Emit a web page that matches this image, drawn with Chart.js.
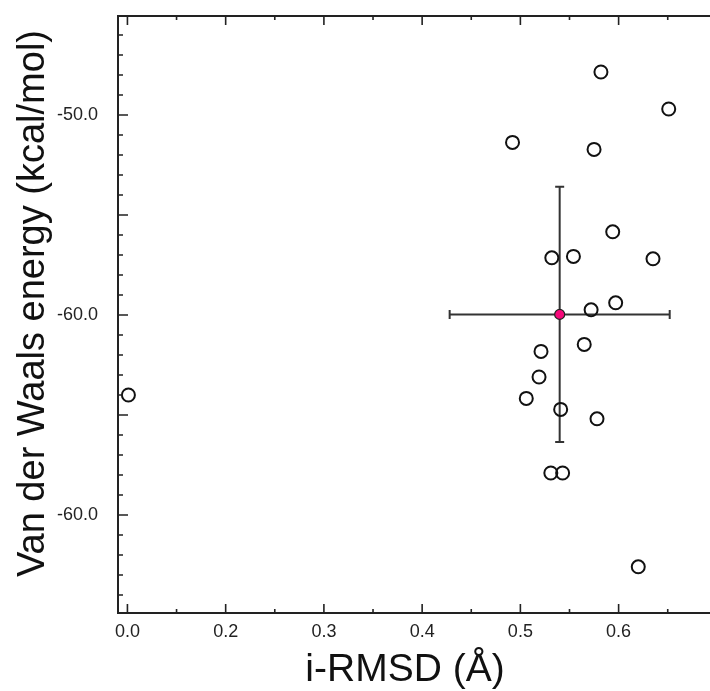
<!DOCTYPE html>
<html>
<head>
<meta charset="utf-8">
<script src="https://cdn.jsdelivr.net/npm/chart.js@4.4.1/dist/chart.umd.min.js"></script>
<style>
  html, body { margin: 0; padding: 0; background: #fff; overflow: hidden; }
  #wrap { width: 710px; height: 691px; }
</style>
</head>
<body>
<div id="wrap"><canvas id="chart" width="710" height="691"></canvas></div>
<script>
// docked models: interface RMSD vs van der Waals energy
const rmsd = [0.101, 0.492, 0.582, 0.651, 0.575, 0.594, 0.532, 0.554, 0.635, 0.597,
              0.572, 0.565, 0.521, 0.519, 0.506, 0.541, 0.578, 0.531, 0.543, 0.620];
const vdw = [-64.0, -51.37, -47.85, -49.7, -51.72, -55.84, -57.14, -57.07, -57.19, -59.39,
             -59.74, -61.47, -61.82, -63.1, -64.17, -64.72, -65.19, -67.9, -67.9, -72.59];

// mean and standard deviation
const meanRmsd = [0.540];
const meanVdw = [-59.97];
const sdRmsd = [0.112];
const sdVdw = [6.38];

const xTickValues = [0.1, 0.2, 0.3, 0.4, 0.5, 0.6];
const xTickLabels = ['0.0', '0.2', '0.3', '0.4', '0.5', '0.6'];
const yTickValues = [-70, -60, -50];
const yTickLabels = ['-60.0', '-60.0', '-50.0'];

const xTitle = 'i-RMSD (Å)';
const yTitle = 'Van der Waals energy (kcal/mol)';

const FONT = "'Liberation Sans', Arial, sans-serif";
const INK = '#222';

// error bars under the points
const errorBars = {
    id: 'errorBars',
    beforeDatasetsDraw(chart) {
        const ctx = chart.ctx;
        const xs = chart.scales.x, ys = chart.scales.y;
        ctx.save();
        ctx.strokeStyle = '#333';
        ctx.lineWidth = 2;
        for (let i = 0; i < meanRmsd.length; i++) {
            const cx = xs.getPixelForValue(meanRmsd[i]);
            const cy = ys.getPixelForValue(meanVdw[i]);
            const x0 = xs.getPixelForValue(meanRmsd[i] - sdRmsd[i]);
            const x1 = xs.getPixelForValue(meanRmsd[i] + sdRmsd[i]);
            const y0 = ys.getPixelForValue(meanVdw[i] + sdVdw[i]);
            const y1 = ys.getPixelForValue(meanVdw[i] - sdVdw[i]);
            ctx.beginPath();
            ctx.moveTo(x0, cy); ctx.lineTo(x1, cy);
            ctx.moveTo(x0, cy - 4.5); ctx.lineTo(x0, cy + 4.5);
            ctx.moveTo(x1, cy - 4.5); ctx.lineTo(x1, cy + 4.5);
            ctx.moveTo(cx, y0); ctx.lineTo(cx, y1);
            ctx.moveTo(cx - 4.5, y0); ctx.lineTo(cx + 4.5, y0);
            ctx.moveTo(cx - 4.5, y1); ctx.lineTo(cx + 4.5, y1);
            ctx.stroke();
        }
        ctx.restore();
    }
};

// frame with inward tick marks (right side is cut off in the figure)
const frame = {
    id: 'frame',
    afterDraw(chart) {
        const ctx = chart.ctx;
        const {left, top, bottom} = chart.chartArea;
        const xs = chart.scales.x, ys = chart.scales.y;
        const w = chart.width;
        ctx.save();
        ctx.strokeStyle = '#222';
        ctx.lineWidth = 2;
        ctx.beginPath();
        ctx.moveTo(w, top); ctx.lineTo(left, top); ctx.lineTo(left, bottom); ctx.lineTo(w, bottom);
        ctx.stroke();

        ctx.lineWidth = 1.6;
        ctx.beginPath();
        for (let k = 2; k <= 14; k++) {
            const px = xs.getPixelForValue(k * 0.05);
            if (px < left || px > w) continue;
            const len = k % 2 === 0 ? 9 : 4;
            ctx.moveTo(px, bottom); ctx.lineTo(px, bottom - len);
            ctx.moveTo(px, top); ctx.lineTo(px, top + len);
        }
        for (let v = -75; v <= -45; v++) {
            const py = ys.getPixelForValue(v);
            if (py < top || py > bottom) continue;
            const len = v % 5 === 0 ? 10 : 5;
            ctx.moveTo(left, py); ctx.lineTo(left + len, py);
        }
        ctx.stroke();

        // y axis title, centred a little above the plot middle as in the figure
        ctx.fillStyle = '#111';
        ctx.font = '38px ' + FONT;
        ctx.textAlign = 'center';
        ctx.textBaseline = 'alphabetic';
        ctx.translate(44, (top + bottom) / 2 - 11);
        ctx.rotate(-Math.PI / 2);
        ctx.fillText(yTitle, 0, 0);
        ctx.restore();
    }
};

const noPad = s => { s.paddingTop = 0; s.paddingBottom = 0; s.paddingLeft = 0; s.paddingRight = 0; };

const ctx = document.getElementById('chart').getContext('2d');

new Chart(ctx, {
    type: 'scatter',
    data: {
        datasets: [
            {
                label: 'mean',
                data: meanRmsd.map((x, i) => ({x: x, y: meanVdw[i]})),
                pointRadius: 5,
                pointBackgroundColor: '#f7087a',
                pointBorderColor: '#222',
                pointBorderWidth: 1.2
            },
            {
                label: 'models',
                data: rmsd.map((x, i) => ({x: x, y: vdw[i]})),
                pointRadius: 6.5,
                pointBackgroundColor: 'rgba(255,255,255,0)',
                pointBorderColor: '#111',
                pointBorderWidth: 2
            }
        ]
    },
    options: {
        responsive: false,
        animation: false,
        layout: {
            padding: {top: 16, right: 18, left: 0, bottom: 0}
        },
        plugins: {
            legend: {display: false},
            tooltip: {enabled: false}
        },
        scales: {
            x: {
                type: 'linear',
                min: 0.0904,
                max: 0.6747,
                afterBuildTicks: s => { s.ticks = xTickValues.map(v => ({value: v})); },
                afterFit: s => { s.height = 78; noPad(s); },
                grid: {display: false, drawTicks: false},
                border: {display: false},
                ticks: {
                    callback: (v, i) => xTickLabels[i],
                    font: {family: FONT, size: 18},
                    color: INK,
                    padding: 8,
                    maxRotation: 0,
                    autoSkip: false
                },
                title: {
                    display: true,
                    text: xTitle,
                    font: {family: FONT, size: 39},
                    color: '#111',
                    padding: {top: 0, bottom: -3}
                }
            },
            y: {
                type: 'linear',
                min: -74.9,
                max: -45.05,
                afterBuildTicks: s => { s.ticks = yTickValues.map(v => ({value: v})); },
                afterFit: s => { s.width = 118; noPad(s); },
                grid: {display: false, drawTicks: false},
                border: {display: false},
                ticks: {
                    callback: (v, i) => yTickLabels[i],
                    font: {family: FONT, size: 18},
                    color: INK,
                    padding: 20,
                    autoSkip: false
                }
            }
        }
    },
    plugins: [errorBars, frame]
});
</script>
</body>
</html>
